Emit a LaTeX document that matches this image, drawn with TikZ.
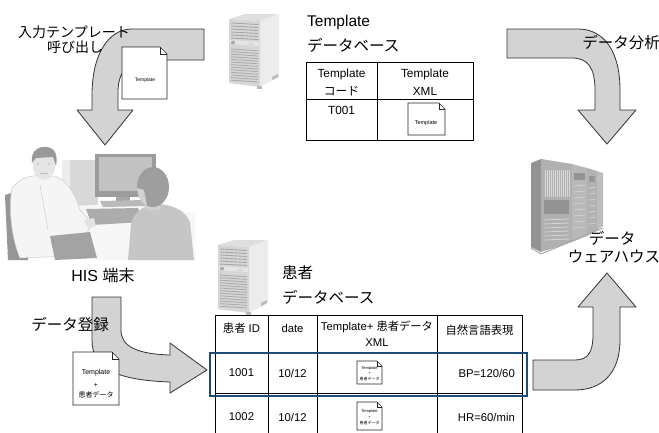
\documentclass[tikz,border=0pt]{standalone}
\usepackage{fontspec}
\setmainfont{Liberation Sans}
\newfontfamily\jp{Noto Sans CJK JP}
\definecolor{arrowgray}{HTML}{D3D3D3}
\definecolor{rowblue}{HTML}{1C4B75}
\tikzset{
  flow/.style={fill=arrowgray, draw=black!80, line width=0.8pt, line join=round},
  lbl/.style={inner sep=0pt, font=\fontsize{15.5}{18}\selectfont},
  cell/.style={inner sep=0pt, font=\fontsize{11.3}{13}\selectfont},
  tbl/.style={draw=black, line width=0.9pt},
  tiny/.style={inner sep=0pt, font=\fontsize{#1}{#1}\selectfont},
  pics/docicon/.style n args={3}{code={
    \filldraw[fill=white, draw=black!85, line width=0.6pt]
      (0,0) -- ({#1-#3},0) -- (#1,#3) -- (#1,#2) -- (0,#2) -- cycle;
    \draw[black!85, line width=0.5pt] ({#1-#3},0) -- ({#1-#3},#3) -- (#1,#3);
  }},
  pics/tower/.style={code={
    % top, side and front faces of a tower server
    \fill[gray!25] (0,6) -- (16,1) -- (50,1) -- (31,8) -- cycle;
    \fill[gray!15] (31,8) -- (50,1) -- (50,64) -- (31,74) -- cycle;
    \fill[gray!32] (0,6) -- (31,8) -- (31,74) -- (0,70) -- cycle;
    \foreach \v in {10,13,...,26} \draw[gray!70, line width=0.9pt] (2,\v) -- (29,\v+1.5);
    \fill[gray!20] (1,27) -- (30,29) -- (30,33) -- (1,31) -- cycle;
    \fill[gray!65] (4,29.5) circle (2);
    \draw[gray!60, line width=0.6pt] (20,31) -- (24,31.3);
    \foreach \v in {36,38.6,...,68} \draw[gray!65, line width=0.9pt] (2,\v) -- (29,\v+1.8);
    \fill[gray!55] (43,64) -- (49,61) -- (49,64) -- (43,67) -- cycle;
    \fill[gray!55] (28,73) -- (33,73) -- (33,76) -- (28,76) -- cycle;
  }}
}
\begin{document}
\begin{tikzpicture}[x=1pt, y=-1pt]
\useasboundingbox (0,0) rectangle (659,432);
\fill[white] (0,0) rectangle (659,432);

% ---------- block arrows ----------
\filldraw[flow] (204,29) -- (132,29) .. controls (108,29) and (92,55) .. (92,95)
  -- (92,110) -- (77,110) -- (105,145) -- (133,110) -- (118,110) -- (118,92)
  .. controls (118,72) and (128,60) .. (148,60) -- (204,60) -- cycle;
\filldraw[flow] (507,29) -- (578,29) .. controls (603,29) and (620,50) .. (620,90)
  -- (620,110) -- (636,110) -- (607,144) -- (578,110) -- (595,110) -- (595,90)
  .. controls (595,68) and (588,58) .. (572,58) -- (507,58) -- cycle;
\filldraw[flow] (92,297) -- (121,297) -- (121,330) .. controls (121,347) and (138,354) .. (170,355)
  -- (170,343) -- (207,370) -- (170,393) -- (170,382)
  .. controls (115,380) and (92,368) .. (92,340) -- cycle;
\filldraw[flow] (533,360) -- (575,360) .. controls (588,360) and (593,352) .. (593,335)
  -- (593,307) -- (578,307) -- (607,273) -- (636,307) -- (620,307) -- (620,340)
  .. controls (620,372) and (603,390) .. (575,390) -- (533,390) -- cycle;

% ---------- template document on the first arrow ----------
\pic at (122,47) {docicon={45}{52}{7}};
\node[tiny=5] (tplA) at (145,80) {Template};

% ---------- labels ----------
\node[lbl, font=\fontsize{14}{17}\selectfont] (callA) at (74,32) {\jp 入力テンプレート};
\node[lbl, font=\fontsize{14}{17}\selectfont] (callB) at (75,47) {\jp 呼び出し};
\node[lbl, anchor=west] (tdbA) at (307,22) {Template};
\node[lbl, anchor=west] (tdbB) at (307,45) {\jp データベース};
\node[lbl] (ana) at (621,43) {\jp データ分析};

% ---------- servers ----------
\pic at (229,13) {tower};
\pic at (218,239) {tower};

% ---------- template table ----------
\draw[tbl] (306,62) rectangle (473,140);
\draw[tbl] (377,62) -- (377,140);
\draw[tbl] (306,99) -- (473,99);
\node[cell, font=\fontsize{11.8}{13}\selectfont] (h1a) at (341.5,74) {Template};
\node[cell, font=\fontsize{11.8}{13}\selectfont] (h1b) at (341.5,91) {\jp コード};
\node[cell, font=\fontsize{11.8}{13}\selectfont] (h2a) at (425,74) {Template};
\node[cell, font=\fontsize{11.8}{13}\selectfont] (h2b) at (425,91) {XML};
\node[cell, font=\fontsize{11.8}{13}\selectfont] (t001) at (341.5,110) {T001};
\pic at (408,103) {docicon={37}{32}{6}};
\node[tiny=5.5] (tplB) at (426,123) {Template};

% ---------- HIS terminal scene ----------
\fill[gray!30] (62,160) rectangle (98,210);
\fill[gray!14] (62,160) rectangle (70,210);
\fill[gray!78] (95,154) rectangle (156,197);
\fill[gray!48] (99,157) rectangle (152,191);
\fill[gray!70] (116,197) rectangle (130,203);
\fill[gray!6] (70,206) -- (150,203) -- (195,214) -- (195,260) -- (95,260) -- cycle;
\fill[gray!55] (100,201) -- (145,200) -- (148,206) -- (103,207) -- cycle;
\fill[gray!65] (86,209) -- (138,208) -- (143,222) -- (92,225) -- cycle;
\fill[gray!82] (5,195) -- (22,190) -- (28,260) -- (8,260) -- cycle;
\filldraw[fill=gray!8, draw=gray!40, line width=0.5pt]
  (12,188) .. controls (20,178) and (30,175) .. (40,176) -- (55,176)
  .. controls (66,180) and (75,192) .. (80,210) -- (93,224) -- (86,234) -- (95,255)
  -- (20,258) .. controls (12,240) and (8,210) .. (12,188) -- cycle;
\draw[gray!40, line width=0.5pt] (40,185) -- (48,230);
\fill[gray!22] (84,220) -- (94,218) -- (96,226) -- (88,228) -- cycle;
\fill[gray!72] (50,236) -- (90,232) -- (97,258) -- (55,260) -- cycle;
\fill[gray!20] (44,166) ellipse (11 and 14);
\fill[gray!45] (38,164) circle (1.2) (49,164) circle (1.2);
\draw[gray!50, line width=0.6pt] (40,173) -- (48,173);
\fill[gray!80] (32,163) .. controls (30,150) and (40,146) .. (47,147)
  .. controls (55,148) and (58,155) .. (56,166) -- (53,157) -- (36,158) -- cycle;
\fill[gray!45] (128,260) -- (131,225) .. controls (134,210) and (145,205) .. (158,204)
  .. controls (175,205) and (186,212) .. (190,222) -- (194,260) -- cycle;
\fill[gray!38] (146,200) rectangle (160,210);
\fill[gray!76] (153,187) ellipse (16 and 20);
\fill[gray!35] (137,188) .. controls (138,198) and (142,204) .. (147,206) -- (144,190) -- cycle;
\node[lbl, font=\fontsize{16}{19}\selectfont] (his) at (103,275) {HIS {\jp 端末}};

% ---------- data warehouse ----------
\fill[gray!85] (531,163) -- (541,159) -- (541,252) -- (531,247) -- cycle;
\fill[gray!62] (541,159) -- (572,164) -- (572,242) -- (541,252) -- cycle;
\fill[gray!56] (572,164) -- (587,168) -- (587,236) -- (572,242) -- cycle;
\fill[gray!60] (587,168) -- (597,171) -- (597,230) -- (587,236) -- cycle;
\fill[gray!52] (597,171) -- (603,173) -- (603,226) -- (597,230) -- cycle;
\foreach \u in {545,547,...,569} \draw[gray!30, line width=0.6pt] (\u,170) -- (\u,197);
\fill[gray!85] (544,200) rectangle (569,214);
\foreach \v in {220,224,...,240} \draw[gray!32, line width=0.8pt] (544,\v) -- (569,\v-1);
\fill[gray!85] (574,173) rectangle (585,180);
\foreach \v in {186,192,...,228} \draw[gray!32, line width=0.7pt] (574,\v) -- (585,\v-1);
\fill[gray!82] (589,176) rectangle (595,182);
\foreach \v in {188,194,...,224} \draw[gray!32, line width=0.7pt] (589,\v) -- (595,\v-0.5);
\draw[gray!70, line width=1pt] (531,248) -- (541,254) -- (603,228);
\node[lbl] (dwA) at (612,238) {\jp データ};
\node[lbl] (dwB) at (614,257) {\jp ウェアハウス};

% ---------- patient database ----------
\node[lbl, anchor=west] (pdbA) at (282,273) {\jp 患者};
\node[lbl, anchor=west] (pdbB) at (282,297) {\jp データベース};
\draw[tbl] (215,433) -- (215,315) -- (522,315) -- (522,433);
\draw[tbl] (215,352) -- (522,352);
\draw[tbl] (215,393) -- (522,393);
\foreach \u in {268,317,437} \draw[tbl] (\u,315) -- (\u,433);
\node[cell] (c1) at (241.5,328) {{\jp 患者} ID};
\node[cell] (c2) at (292.5,328) {date};
\node[cell] (c3a) at (377,327) {Template+ {\jp 患者データ}};
\node[cell] (c3b) at (377,343) {XML};
\node[cell] (c4) at (479.5,330) {\jp 自然言語表現};
\node[cell] (r1a) at (241.5,373) {1001};
\node[cell] (r1b) at (292.5,373) {10/12};
\pic at (357,361) {docicon={25}{23}{5}};
\node[tiny=4] (r1t) at (369.5,368) {Template};
\node[tiny=4] (r1p) at (369.5,373.5) {+};
\node[tiny=4] (r1j) at (369.5,379) {\jp 患者データ};
\node[cell, anchor=east] (r1d) at (515,373) {BP=120/60};
\node[cell] (r2a) at (241.5,417) {1002};
\node[cell] (r2b) at (292.5,417) {10/12};
\pic at (357,402) {docicon={25}{28}{5}};
\node[tiny=4] (r2t) at (369.5,411) {Template};
\node[tiny=4] (r2p) at (369.5,417) {+};
\node[tiny=4] (r2j) at (369.5,423) {\jp 患者データ};
\node[cell, anchor=east] (r2d) at (515,417) {HR=60/min};
\draw[rowblue, line width=1.6pt] (210,353) rectangle (527,396);

% ---------- registration arrow label and document ----------
\node[lbl] (reg) at (70,325) {\jp データ登録};
\pic at (73,352) {docicon={46}{53}{7}};
\node[tiny=7] (regT) at (96,373) {Template};
\node[tiny=7] (regP) at (96,385) {+};
\node[tiny=7] (regJ) at (96,395) {\jp 患者データ};
\end{tikzpicture}
\end{document}
